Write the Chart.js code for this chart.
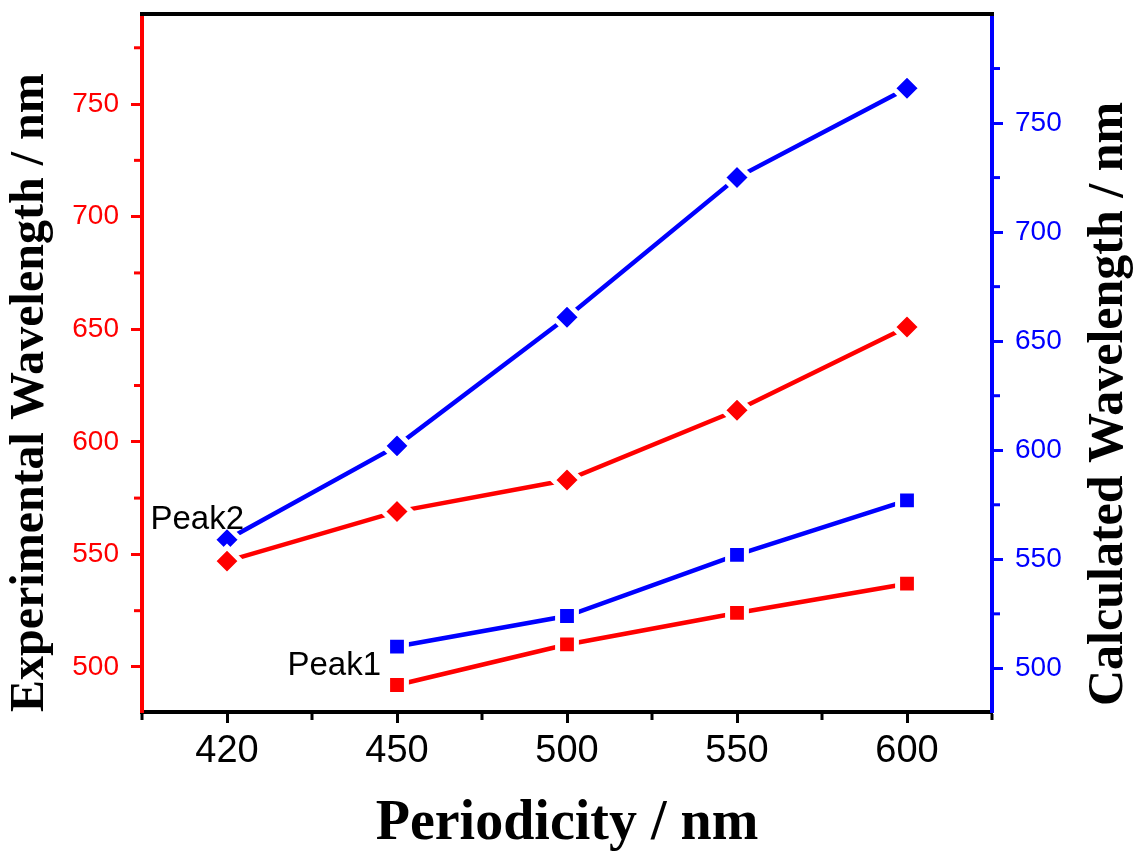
<!DOCTYPE html>
<html>
<head>
<meta charset="utf-8">
<title>Periodicity vs Wavelength</title>
<script src="https://cdn.jsdelivr.net/npm/chart.js@4"></script>
<style>
  html, body { margin: 0; padding: 0; background: #fff; }
  #wrap { width: 1135px; height: 861px; position: relative; }
</style>
</head>
<body>
<div id="wrap"><canvas id="chart"></canvas></div>
<script>
// Data
const periodicity = ['420', '450', '500', '550', '600'];

// Experimental (left axis, red)
const expPeak2 = [547, 569, 583, 614, 651];
const expPeak1 = [null, 492, 510, 524, 537];

// Calculated (right axis, blue)
const calcPeak2 = [559, 602, 661, 725, 766];
const calcPeak1 = [null, 510, 524, 552, 577];

// Axis ticks
const yTicks = [500, 550, 600, 650, 700, 750];
const yMinorTicks = [525, 575, 625, 675, 725, 775];

const RED = '#ff0000';
const BLUE = '#0000ff';
const SANS = 'Arial, "Liberation Sans", sans-serif';
const SERIF = '"Times New Roman", "Liberation Serif", serif';
const AXIS_W = 4;

function series(label, data, color, style, axis, radius) {
    return {
        label: label,
        data: data,
        yAxisID: axis,
        borderColor: color,
        backgroundColor: color,
        borderWidth: 4.5,
        pointStyle: style,
        pointRadius: radius,
        pointBackgroundColor: color,
        pointBorderColor: '#ffffff',
        pointBorderWidth: 5,
        tension: 0,
        spanGaps: false
    };
}

// keep the plot area where the figure has it
function fixBox(size, key) {
    return scale => {
        scale[key] = size;
        scale.paddingTop = 0;
        scale.paddingBottom = 0;
        scale.paddingLeft = 0;
        scale.paddingRight = 0;
    };
}

// Minor ticks, top frame, right title and peak labels
const extrasPlugin = {
    id: 'extras',
    afterDraw(chart) {
        const ctx = chart.ctx;
        const area = chart.chartArea;
        const x = chart.scales.x;
        const y = chart.scales.y;
        const y2 = chart.scales.y2;
        const h = AXIS_W / 2;
        ctx.save();

        // top frame line
        ctx.strokeStyle = '#000';
        ctx.lineWidth = AXIS_W;
        ctx.beginPath();
        ctx.moveTo(area.left - h, area.top);
        ctx.lineTo(area.right + h, area.top);
        ctx.stroke();

        // minor ticks on the y axes
        ctx.lineWidth = 3;
        yMinorTicks.forEach(v => {
            const py = y.getPixelForValue(v);
            ctx.strokeStyle = RED;
            ctx.beginPath();
            ctx.moveTo(area.left - h, py);
            ctx.lineTo(area.left - h - 6, py);
            ctx.stroke();
            const py2 = y2.getPixelForValue(v);
            ctx.strokeStyle = BLUE;
            ctx.beginPath();
            ctx.moveTo(area.right + h, py2);
            ctx.lineTo(area.right + h + 6, py2);
            ctx.stroke();
        });

        // minor ticks on the x axis, between categories
        const step = x.getPixelForValue(1) - x.getPixelForValue(0);
        ctx.strokeStyle = '#000';
        for (let i = 0; i <= periodicity.length; i++) {
            const px = x.getPixelForValue(i) - step / 2;
            ctx.beginPath();
            ctx.moveTo(px, area.bottom + h);
            ctx.lineTo(px, area.bottom + h + 6);
            ctx.stroke();
        }

        // right axis title, reading bottom to top
        ctx.fillStyle = '#000';
        ctx.font = 'bold 50px ' + SERIF;
        ctx.textAlign = 'left';
        ctx.textBaseline = 'alphabetic';
        ctx.translate(1122, 706);
        ctx.rotate(-Math.PI / 2);
        ctx.fillText('Calculated Wavelength / nm', 0, 0);
        ctx.setTransform(1, 0, 0, 1, 0, 0);

        // peak labels
        ctx.font = '33px ' + SANS;
        ctx.textAlign = 'right';
        ctx.fillText('Peak2', x.getPixelForValue(0) + 17, y2.getPixelForValue(calcPeak2[0]) - 11);
        ctx.fillText('Peak1', x.getPixelForValue(1) - 16, y.getPixelForValue(expPeak1[1]) - 10);

        ctx.restore();
    }
};

const ctx = document.getElementById('chart').getContext('2d');

new Chart(ctx, {
    type: 'line',
    data: {
        labels: periodicity,
        datasets: [
            series('Exp Peak2', expPeak2, RED, 'rectRot', 'y', 14),
            series('Exp Peak1', expPeak1, RED, 'rect', 'y', 13.3),
            series('Calc Peak2', calcPeak2, BLUE, 'rectRot', 'y2', 14),
            series('Calc Peak1', calcPeak1, BLUE, 'rect', 'y2', 13.3)
        ]
    },
    options: {
        responsive: true,
        maintainAspectRatio: false,
        animation: false,
        events: [],
        layout: {
            autoPadding: false,
            padding: { top: 14, left: 0, right: 0, bottom: 0 }
        },
        plugins: {
            legend: { display: false },
            tooltip: { enabled: false }
        },
        scales: {
            x: {
                type: 'category',
                offset: true,
                grid: {
                    drawOnChartArea: false,
                    offset: false,
                    tickLength: 11,
                    tickWidth: 3,
                    tickColor: '#000'
                },
                border: { color: '#000', width: AXIS_W },
                ticks: {
                    color: '#000',
                    padding: 6,
                    font: { family: SANS, size: 38 }
                },
                title: {
                    display: true,
                    text: 'Periodicity / nm',
                    color: '#000',
                    font: { family: SERIF, size: 56, weight: 'bold' },
                    padding: { top: 0, bottom: 3 }
                },
                afterFit: fixBox(149, 'height')
            },
            y: {
                type: 'linear',
                position: 'left',
                min: 480,
                max: 790,
                afterBuildTicks: scale => { scale.ticks = yTicks.map(v => ({ value: v })); },
                grid: {
                    drawOnChartArea: false,
                    tickLength: 11,
                    tickWidth: 3,
                    tickColor: RED
                },
                border: { color: RED, width: AXIS_W },
                ticks: {
                    color: RED,
                    padding: 12,
                    font: { family: SANS, size: 28 }
                },
                title: {
                    display: true,
                    text: 'Experimental Wavelength / nm',
                    align: 'start',
                    color: '#000',
                    font: { family: SERIF, size: 48, weight: 'bold' },
                    padding: { top: 2, bottom: 0 }
                },
                afterFit: fixBox(142, 'width')
            },
            y2: {
                type: 'linear',
                position: 'right',
                min: 480,
                max: 800,
                afterBuildTicks: scale => { scale.ticks = yTicks.map(v => ({ value: v })); },
                grid: {
                    drawOnChartArea: false,
                    tickLength: 11,
                    tickWidth: 3,
                    tickColor: BLUE
                },
                border: { color: BLUE, width: AXIS_W },
                ticks: {
                    color: BLUE,
                    padding: 12,
                    font: { family: SANS, size: 28 }
                },
                afterFit: fixBox(143, 'width')
            }
        }
    },
    plugins: [extrasPlugin]
});
</script>
</body>
</html>
